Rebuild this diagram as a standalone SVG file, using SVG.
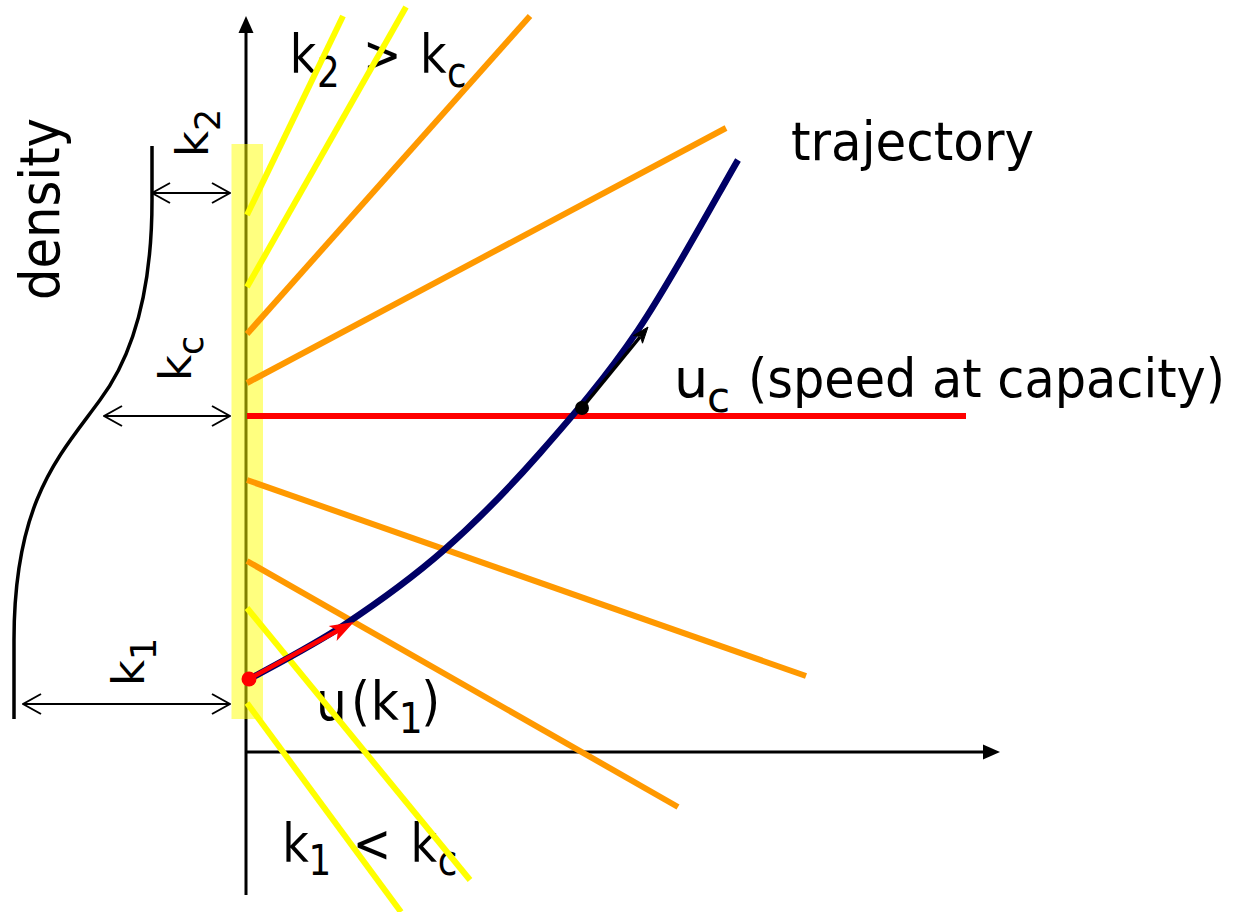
<svg xmlns="http://www.w3.org/2000/svg" width="1239" height="912" viewBox="0 0 1239 912">
<defs>
<style>
.lbl{font-family:"DejaVu Sans","Liberation Sans",sans-serif;font-size:54px;fill:#000}
.sub{font-size:42px}
.rot{font-size:45px}
.rsub{font-size:35px}
.ax{stroke:#000;stroke-width:3;fill:none}
.dim{stroke:#000;stroke-width:2;fill:none;marker-start:url(#open);marker-end:url(#open)}
.yl{stroke:#ffff00;stroke-width:6;fill:none}
.or{stroke:#ff9900;stroke-width:6;fill:none}
</style>
<marker id="open" viewBox="0 0 20 22" refX="19" refY="11" markerWidth="20" markerHeight="22" markerUnits="userSpaceOnUse" orient="auto-start-reverse">
<path d="M1,1 L19,11 L1,21" fill="none" stroke="#000" stroke-width="2"/>
</marker>
</defs>
<rect width="1239" height="912" fill="#fff"/>

<g id="labels" class="lbl">
<text transform="scale(0.85,1)"><tspan x="341" y="73">k</tspan><tspan class="sub" x="373" y="87">2</tspan><tspan x="427" y="73">&gt;</tspan><tspan x="494" y="73">k</tspan><tspan class="sub" x="526" y="87">c</tspan></text>
<text x="791" y="160" textLength="243" lengthAdjust="spacingAndGlyphs">trajectory</text>
<text><tspan x="674" y="397">u</tspan><tspan class="sub" x="707" y="412">c</tspan></text>
<text x="748" y="397" textLength="477" lengthAdjust="spacingAndGlyphs">(speed at capacity)</text>
<text transform="scale(0.9,1)"><tspan x="351" y="720">u</tspan><tspan x="390" y="720">(</tspan><tspan x="412" y="720">k</tspan><tspan class="sub" x="443" y="733">1</tspan><tspan x="468" y="720">)</tspan></text>
<text transform="scale(0.85,1)"><tspan x="332" y="862">k</tspan><tspan class="sub" x="363" y="875">1</tspan><tspan x="415" y="862">&lt;</tspan><tspan x="483" y="862">k</tspan><tspan class="sub" x="515" y="875">c</tspan></text>
<text transform="translate(59,300) rotate(-90)" font-size="55" textLength="182" lengthAdjust="spacingAndGlyphs">density</text>
<text class="rot" transform="translate(208,157) rotate(-90)">k<tspan class="rsub" dy="12">2</tspan></text>
<text class="rot" transform="translate(191,381) rotate(-90)">k<tspan class="rsub" dy="12">c</tspan></text>
<text class="rot" transform="translate(144,686) rotate(-90)">k<tspan class="rsub" dy="12">1</tspan></text>
</g>

<g id="axes">
<line class="ax" x1="246" y1="895" x2="246" y2="30"/>
<polygon points="246,16 238.5,33 253.5,33" fill="#000"/>
<line class="ax" x1="246" y1="752" x2="986" y2="752"/>
<polygon points="1000,752 983,744.5 983,759.5" fill="#000"/>
</g>

<g id="density-curve">
<path d="M152,146 L152,200 C152,300 130,360 100,400 C60,455 14,500 14,640 L14,719" fill="none" stroke="#000" stroke-width="3.5"/>
</g>

<g id="dimensions">
<line class="dim" x1="152" y1="193" x2="230" y2="193"/>
<line class="dim" x1="104" y1="416" x2="230" y2="416"/>
<line class="dim" x1="23" y1="704" x2="230" y2="704"/>
</g>

<rect id="highlight" x="231.5" y="144" width="31.5" height="575" fill="#ffff00" fill-opacity="0.5"/>

<g id="characteristics">
<line class="yl" x1="247" y1="215" x2="343" y2="16"/>
<line class="yl" x1="247" y1="287" x2="406" y2="7"/>
<line class="or" x1="247" y1="334" x2="530" y2="16"/>
<line class="or" x1="247" y1="383" x2="726" y2="128"/>
<line x1="247" y1="416" x2="966" y2="416" stroke="#ff0000" stroke-width="6"/>
<line class="or" x1="247" y1="480" x2="806" y2="676"/>
<line class="or" x1="247" y1="561" x2="678" y2="807"/>
<line class="yl" x1="247" y1="608" x2="470" y2="880"/>
<line class="yl" x1="247" y1="703" x2="401" y2="912"/>
</g>

<g id="trajectory">
<path d="M248,680 C264,670.8 311.3,646.7 344,625 C376.7,603.3 411.3,578.7 444,550 C476.7,521.3 507.7,489.7 540,453 C572.3,416.3 605,378.8 638,330 C671,281.2 721.3,188.3 738,160" fill="none" stroke="#000066" stroke-width="6.5"/>
</g>

<g id="speed-arrows">
<line x1="249" y1="679" x2="339" y2="630" stroke="#ff0000" stroke-width="4.5"/>
<polygon points="352,623 337.7,638.8 338.8,630.2 331.1,626.4" fill="#ff0000" stroke="#ff0000" stroke-width="1.5"/>
<circle cx="249" cy="679" r="7.5" fill="#ff0000"/>
<line x1="582" y1="408" x2="640" y2="337" stroke="#000" stroke-width="3.5"/>
<polygon points="648,327 642.5,343.2 640.4,336.3 633.3,335.6" fill="#000" stroke="#000" stroke-width="1"/>
<circle cx="582" cy="408" r="7" fill="#000"/>
</g>
</svg>
